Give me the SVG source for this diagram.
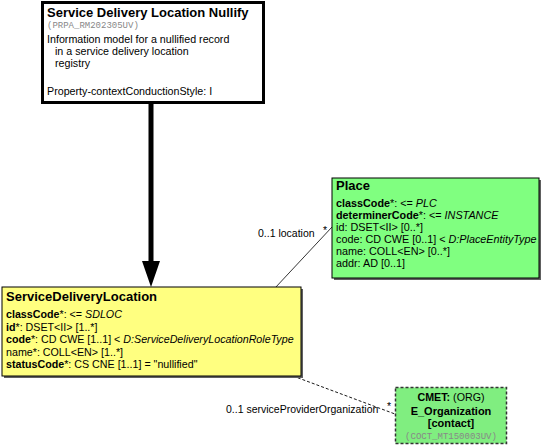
<svg xmlns="http://www.w3.org/2000/svg" width="543" height="448" viewBox="0 0 543 448">
<style>
text{font-family:"Liberation Sans",Arial,sans-serif;font-size:10.7px;fill:#000}
.t{font-size:13px;font-weight:bold}
.b{font-weight:bold}
.i{font-style:italic}
.p{font-size:10.8px}
.m{font-family:"Liberation Mono","Courier New",monospace;font-size:9px;fill:#888}
.lbl{font-size:10.5px}
</style>
<rect width="543" height="448" fill="#fff"/>
<g id="connectors">
<line x1="151" y1="104" x2="151" y2="262" stroke="#000" stroke-width="5"/>
<path d="M142,261 L160,261 L151,287 Z" fill="#000"/>
<line x1="275" y1="288" x2="332" y2="227" stroke="#000" stroke-width="0.8"/>
<text x="258" y="237" class="lbl">0..1 location</text>
<text x="323" y="234" class="lbl">*</text>
<line x1="293" y1="376" x2="395" y2="414" stroke="#000" stroke-width="0.9" stroke-dasharray="3,2"/>
<text x="226" y="413" class="lbl">0..1 serviceProviderOrganization</text>
<text x="387" y="410" class="lbl">*</text>
</g>
<g id="n_root">
<rect x="42.5" y="2.5" width="221" height="100" fill="#fff" stroke="#000" stroke-width="3"/>
<text x="47" y="17" class="t">Service Delivery Location Nullify</text>
<text x="47" y="28" class="m">(PRPA_RM202305UV)</text>
<text x="47" y="43">Information model for a nullified record</text>
<text x="55" y="55">in a service delivery location</text>
<text x="55" y="67">registry</text>
<text x="47" y="95">Property-contextConductionStyle: I</text>
</g>
<g id="n_place">
<rect x="334" y="180" width="207" height="100" fill="#606060"/>
<rect x="332" y="178" width="207" height="100" fill="#80ff80" stroke="#000" stroke-width="1"/>
<text x="336" y="190" class="t">Place</text>
<text x="336" y="207" class="p"><tspan class="b">classCode</tspan>*: &lt;= <tspan class="i">PLC</tspan></text>
<text x="336" y="219" class="p"><tspan class="b">determinerCode</tspan>*: &lt;= <tspan class="i">INSTANCE</tspan></text>
<text x="336" y="231" class="p">id: DSET&lt;II&gt; [0..*]</text>
<text x="336" y="243" class="p">code: CD CWE [0..1] &lt; <tspan class="i">D:PlaceEntityType</tspan></text>
<text x="336" y="255" class="p">name: COLL&lt;EN&gt; [0..*]</text>
<text x="336" y="267" class="p">addr: AD [0..1]</text>
</g>
<g id="n_sdl">
<rect x="4" y="289" width="299" height="89" fill="#606060"/>
<rect x="2" y="287" width="299" height="89" fill="#ffff80" stroke="#000" stroke-width="1"/>
<text x="6" y="301" class="t">ServiceDeliveryLocation</text>
<text x="6" y="318"><tspan class="b">classCode</tspan>*: &lt;= <tspan class="i">SDLOC</tspan></text>
<text x="6" y="330.5"><tspan class="b">id</tspan>*: DSET&lt;II&gt; [1..*]</text>
<text x="6" y="343"><tspan class="b">code</tspan>*: CD CWE [1..1] &lt; <tspan class="i">D:ServiceDeliveryLocationRoleType</tspan></text>
<text x="6" y="355.5">name*: COLL&lt;EN&gt; [1..*]</text>
<text x="6" y="368"><tspan class="b">statusCode</tspan>*: CS CNE [1..1] = "nullified"</text>
</g>
<g id="n_cmet">
<rect x="395.5" y="387.5" width="111" height="56" fill="#80ee80" stroke="#333" stroke-width="1.5" stroke-dasharray="3,2"/>
<text x="451" y="401" text-anchor="middle"><tspan class="b">CMET:</tspan> (ORG)</text>
<text x="451" y="415" text-anchor="middle" class="b" style="font-size:11px">E_Organization</text>
<text x="451" y="427" text-anchor="middle" class="b" style="font-size:11px">[contact]</text>
<text x="451" y="439" text-anchor="middle" class="m">(COCT_MT150003UV)</text>
</g>
</svg>
